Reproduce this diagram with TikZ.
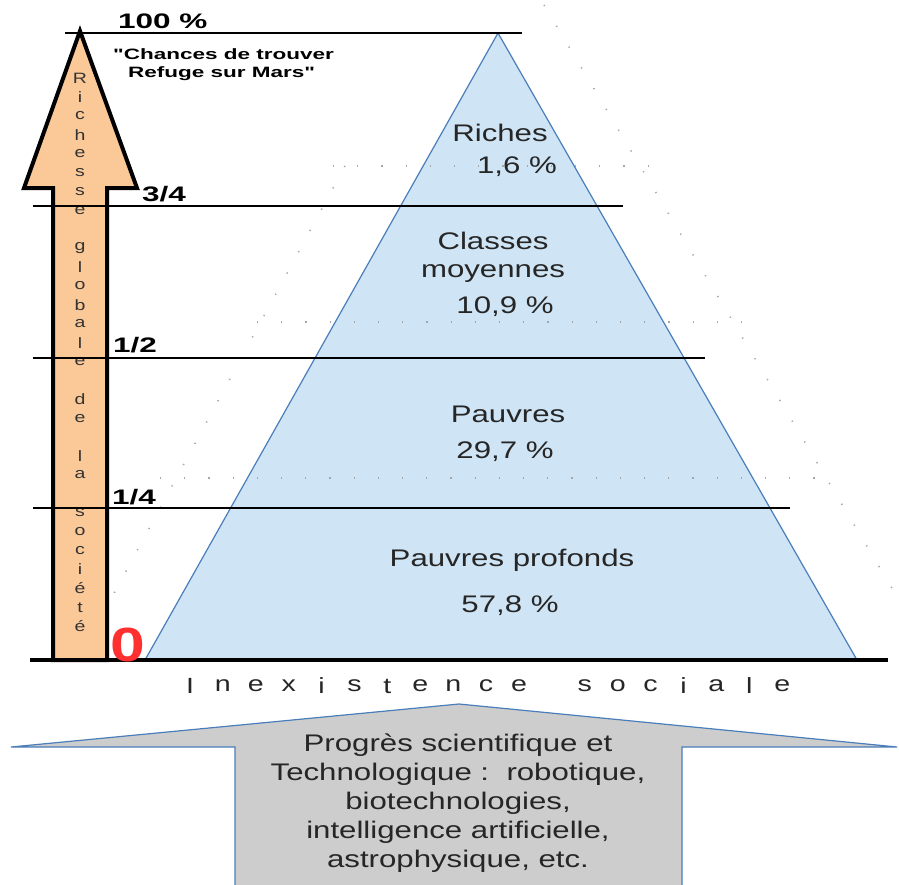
\documentclass[tikz,border=0pt]{standalone}
\usepackage{fontspec}
\setmainfont[FakeStretch=1.3]{Liberation Sans}
\newfontfamily\widebold[FakeStretch=1.5]{Liberation Sans}
\usepackage{tikz}
\usetikzlibrary{positioning}
\definecolor{pyrblue}{HTML}{CFE4F4}
\definecolor{pyredge}{HTML}{4A7EBB}
\definecolor{peach}{HTML}{FBC898}
\definecolor{techgray}{HTML}{CDCDCD}
\definecolor{zerored}{HTML}{FF3030}
\tikzset{
	levelline/.style={
			draw=black,
			line width=1.3pt
		},
	guideline/.style={
			draw=gray!70,
			line width=1.6pt,
			dash pattern=on 1.2pt off 23pt
		},
	pyrlabel/.style={
			font=\fontsize{24}{28}\selectfont,
			text=black!85,
			align=center,
			inner sep=0pt
		},
	fraclabel/.style={
			font=\widebold\bfseries\fontsize{21}{24}\selectfont,
			anchor=base west,
			inner sep=0pt
		},
	quotelabel/.style={
			font=\widebold\bfseries\fontsize{15}{17}\selectfont,
			anchor=base west,
			inner sep=0pt
		},
	vletter/.style={
			font=\fontsize{15}{15}\selectfont,
			text=black!80,
			inner sep=0pt
		},
	baseletter/.style={
			font=\fontsize{22}{22}\selectfont,
			text=black!85,
			inner sep=0pt
		},
	techtext/.style={
			font=\fontsize{24}{29}\selectfont,
			text=black!85,
			align=center,
			inner sep=0pt
		}
}

\begin{document}
\begin{tikzpicture}[x=1pt, y=-1pt]
\useasboundingbox (0,0) rectangle (899,884);

% pyramid
\coordinate (apex) at (498,33);
\coordinate (pl) at (145,660);
\coordinate (pr) at (857,660);
\draw[fill=pyrblue, draw=pyredge, line width=1.2pt] (apex) -- (pr) -- (pl) -- cycle;

% faint dotted guides
\draw[guideline] (333,166) -- (663,166);
\draw[guideline] (257,322) -- (763,322);
\draw[guideline] (160,478) -- (830,478);
\draw[guideline] (345,166) -- (78,660);
\draw[guideline] (544,5) -- (899,600);

% wealth arrow
\draw[fill=peach, line width=4pt, line join=miter]
  (80,31) -- (137,188) -- (107,188) -- (107,660) -- (53,660) -- (53,188) -- (24,188) -- cycle;

\foreach \ch [count=\i] in {R,i,c,h,e,s,s,e,{},g,l,o,b,a,l,e,{},d,e,{},l,a,{},s,o,c,i,é,t,é}
  \node[vletter] (v\i) at (80,{78+(\i-1)*18.9}) {\ch};

% levels
\draw[levelline] (65,33) -- (522,33);
\draw[levelline] (33,206) -- (623,206);
\draw[levelline] (33,358) -- (705,358);
\draw[levelline] (33,508) -- (790,508);
\draw[line width=4pt] (30,660) -- (888,660);

\node[fraclabel] (full) at (118,28) {100 \%};
\node[fraclabel] (threeq) at (142,201) {3/4};
\node[fraclabel] (half) at (113,352) {1/2};
\node[fraclabel] (oneq) at (112,504) {1/4};
\node[quotelabel] (mars1) at (113,59) {"Chances de trouver};
\node[quotelabel] (mars2) at (128,77) {Refuge sur Mars"};
\node[font=\bfseries\fontsize{48}{48}\selectfont, text=zerored, anchor=base west, inner sep=0pt] (zero) at (110,661) {0};

% classes
\node[pyrlabel] (riches) at (500,133) {Riches};
\node[pyrlabel] (richespct) at (517,167) {1,6 \%};
\node[pyrlabel] (moyennes) at (493,257) {Classes\\moyennes};
\node[pyrlabel] (moyennespct) at (505,307) {10,9 \%};
\node[pyrlabel] (pauvres) at (508,414) {Pauvres};
\node[pyrlabel] (pauvrespct) at (505,452) {29,7 \%};
\node[pyrlabel] (profonds) at (512,560) {Pauvres profonds};
\node[pyrlabel] (profondspct) at (510,606) {57,8 \%};

\foreach \ch [count=\i] in {I,n,e,x,i,s,t,e,n,c,e,{},s,o,c,i,a,l,e}
  \node[baseletter] (s\i) at ({190+(\i-1)*32.9},686) {\ch};

% progress arrow
\draw[fill=techgray, draw=pyredge, line width=1.2pt]
  (459,704) -- (897,747) -- (682,747) -- (682,900) -- (235,900) -- (235,747) -- (11,747) -- cycle;
\node[techtext] (tech) at (458,803) {Progrès scientifique et\\Technologique :\ \ robotique,\\biotechnologies,\\intelligence artificielle,\\astrophysique, etc.};

\end{tikzpicture}
\end{document}
